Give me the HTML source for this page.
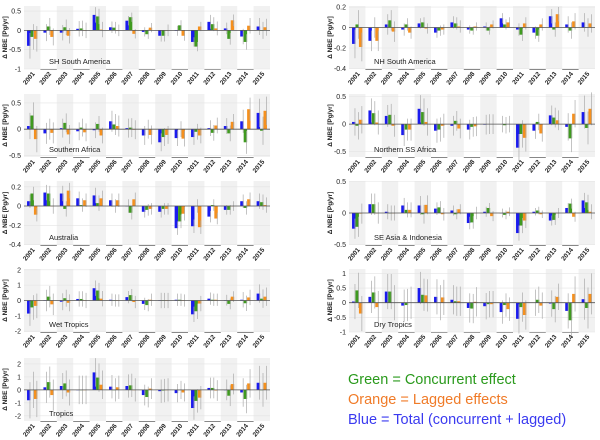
<!DOCTYPE html>
<html><head><meta charset="utf-8"><style>
body{margin:0;background:#fff;width:600px;height:440px;overflow:hidden}
svg{display:block;font-family:"Liberation Sans",sans-serif}
</style></head><body>
<svg id="chart" width="600" height="440" viewBox="0 0 600 440"></svg>
<script>
const years=[2001,2002,2003,2004,2005,2006,2007,2008,2009,2010,2011,2012,2013,2014,2015];
// values per panel: blue (total), green (concurrent), orange (lagged), err (half-length)
const shsaBlue=[-0.4,-0.06,-0.06,0.04,0.4,0.08,0.25,-0.04,-0.14,-0.01,-0.3,0.22,0.05,-0.16,0.1];
const shsaGreen=[-0.17,0.1,0.08,0.05,0.36,0.07,0.34,-0.1,-0.14,0.13,-0.42,0.16,-0.22,-0.3,0.0];
const shsaOrange=[-0.22,-0.17,-0.14,0.0,0.02,0.0,-0.09,0.07,0.0,-0.14,0.1,0.05,0.26,0.12,0.08];
const shsaErr=[0.33,0.22,0.2,0.2,0.2,0.15,0.12,0.12,0.15,0.13,0.12,0.18,0.15,0.2,0.22];
const safBlue=[0.06,-0.08,0.02,-0.04,-0.02,0.15,0.02,-0.12,-0.25,-0.17,-0.15,0.02,0.06,0.15,0.31];
const safGreen=[0.26,0.0,0.12,0.03,0.1,0.09,0.03,0.0,-0.15,0.0,-0.05,-0.07,-0.08,-0.25,-0.03];
const safOrange=[-0.19,-0.07,-0.1,-0.06,-0.12,0.06,-0.01,-0.11,-0.11,-0.18,-0.12,0.07,0.14,0.38,0.35];
const safErr=[0.25,0.2,0.18,0.17,0.15,0.2,0.18,0.18,0.17,0.15,0.15,0.15,0.15,0.22,0.27];
const ausBlue=[0.05,0.14,0.13,0.08,0.11,0.06,0.0,-0.06,-0.06,-0.23,-0.21,-0.11,-0.04,0.05,0.05];
const ausGreen=[0.13,0.13,-0.03,0.01,0.03,0.0,-0.07,-0.04,-0.03,-0.16,0.0,0.01,-0.04,-0.02,0.04];
const ausOrange=[-0.09,0.0,0.16,0.06,0.08,0.06,0.07,-0.03,-0.03,-0.08,-0.22,-0.13,0.0,0.07,0.01];
const ausErr=[0.07,0.08,0.08,0.07,0.08,0.07,0.07,0.06,0.06,0.07,0.07,0.06,0.05,0.07,0.08];
const wetBlue=[-0.85,0.0,-0.08,0.1,0.8,0.05,0.22,-0.22,0.0,0.05,-0.9,0.12,0.02,0.05,0.45];
const wetGreen=[-0.45,0.25,0.15,0.1,0.65,0.0,0.35,-0.3,0.0,0.05,-0.7,0.05,-0.22,-0.18,0.12];
const wetOrange=[-0.35,-0.25,-0.15,0.0,0.12,0.0,-0.1,0.05,0.0,0.0,-0.2,0.05,0.25,0.2,0.25];
const wetErr=[0.8,0.7,0.55,0.5,0.5,0.4,0.4,0.4,0.5,0.4,0.5,0.4,0.35,0.5,0.6];
const troBlue=[-0.8,0.2,0.3,0.0,1.35,0.25,0.3,-0.4,-0.1,-0.25,-1.4,0.15,0.0,-0.2,0.55];
const troGreen=[0.0,0.6,0.5,0.0,0.95,0.0,0.35,-0.55,-0.05,0.0,-0.85,0.15,-0.45,-0.7,0.0];
const troOrange=[-0.7,-0.4,-0.2,0.0,0.4,0.2,0.0,0.1,0.0,-0.2,-0.6,-0.05,0.45,0.5,0.55];
const troErr=[1.4,1.2,1.0,1.1,1.1,0.9,0.9,0.8,0.9,0.7,0.9,0.8,0.8,1.1,1.3];
const nhsaBlue=[-0.16,-0.13,0.03,-0.02,0.04,-0.05,0.05,-0.02,0.01,0.09,-0.02,-0.05,0.11,0.03,0.05];
const nhsaGreen=[0.03,0.0,0.07,0.03,0.05,-0.03,0.04,-0.03,-0.03,0.03,-0.07,-0.08,-0.02,-0.03,0.0];
const nhsaOrange=[-0.19,-0.13,-0.04,-0.05,-0.01,-0.02,0.01,0.01,0.03,0.05,0.04,0.03,0.13,0.06,0.04];
const nhsaErr=[0.14,0.1,0.1,0.06,0.05,0.05,0.06,0.04,0.04,0.05,0.06,0.06,0.07,0.08,0.09];
const nssBlue=[0.04,0.25,0.15,-0.2,0.28,-0.12,-0.03,-0.1,-0.01,0.0,-0.43,-0.12,0.16,-0.05,0.22];
const nssGreen=[-0.03,0.2,0.17,-0.1,0.22,-0.1,0.06,-0.05,0.0,-0.02,-0.18,0.04,0.12,-0.26,-0.07];
const nssOrange=[0.08,0.03,-0.03,-0.1,0.04,-0.03,-0.08,-0.04,0.0,0.0,-0.25,-0.17,0.07,0.19,0.28];
const nssErr=[0.25,0.22,0.2,0.2,0.25,0.22,0.18,0.18,0.18,0.15,0.25,0.15,0.18,0.25,0.3];
const seaBlue=[-0.25,0.14,0.02,0.12,0.12,0.07,0.04,-0.16,0.02,0.0,-0.32,0.02,-0.12,0.08,0.2];
const seaGreen=[-0.22,0.14,0.0,0.05,-0.02,0.09,-0.02,-0.15,0.08,-0.03,-0.2,0.04,-0.11,0.15,0.17];
const seaOrange=[-0.01,0.0,0.0,0.05,0.13,-0.02,0.06,0.0,-0.05,0.02,-0.12,-0.02,0.0,-0.06,0.02];
const seaErr=[0.16,0.17,0.12,0.12,0.15,0.1,0.08,0.1,0.08,0.07,0.12,0.06,0.08,0.08,0.12];
const dryBlue=[0.04,0.2,0.38,-0.1,0.5,0.2,0.1,-0.18,-0.12,-0.32,-0.55,0.0,-0.03,-0.28,0.12];
const dryGreen=[0.42,0.35,0.38,-0.08,0.27,0.0,0.05,-0.2,-0.05,-0.08,-0.15,0.1,-0.22,-0.6,-0.18];
const dryOrange=[-0.37,-0.15,0.0,0.0,0.25,0.18,0.05,0.03,-0.05,-0.22,-0.42,-0.1,0.2,0.3,0.3];
const dryErr=[0.6,0.55,0.6,0.55,0.55,0.6,0.5,0.5,0.45,0.4,0.5,0.45,0.45,0.6,0.7];
const panels=[
 {name:'SH South America',id:'sh-south-america',x0:24,x1:270,top:6,bot:69,ymin:-1,ymax:0.63,ticks:[0.5,0,-0.5,-1],tl:['0.5','0','-0.5','-1'],b:shsaBlue,g:shsaGreen,o:shsaOrange,e:shsaErr},
 {name:'Southern Africa',id:'southern-africa',x0:24,x1:270,top:94,bot:157,ymin:-0.53,ymax:0.67,ticks:[0.5,0,-0.5],tl:['0.5','0','-0.5'],b:safBlue,g:safGreen,o:safOrange,e:safErr},
 {name:'Australia',id:'australia',x0:24,x1:270,top:181,bot:245,ymin:-0.405,ymax:0.26,ticks:[0.2,0,-0.2,-0.4],tl:['0.2','0','-0.2','-0.4'],b:ausBlue,g:ausGreen,o:ausOrange,e:ausErr},
 {name:'Wet Tropics',id:'wet-tropics',x0:24,x1:270,top:269,bot:332,ymin:-2.05,ymax:2.05,ticks:[2,1,0,-1,-2],tl:['2','1','0','-1','-2'],b:wetBlue,g:wetGreen,o:wetOrange,e:wetErr},
 {name:'Tropics',id:'tropics',x0:24,x1:270,top:358,bot:421,ymin:-2.4,ymax:2.46,ticks:[2,1,0,-1,-2],tl:['2','1','0','-1','-2'],b:troBlue,g:troGreen,o:troOrange,e:troErr},
 {name:'NH South America',id:'nh-south-america',x0:349,x1:595,top:6,bot:69,ymin:-0.405,ymax:0.21,ticks:[0.2,0,-0.2,-0.4],tl:['0.2','0','-0.2','-0.4'],b:nhsaBlue,g:nhsaGreen,o:nhsaOrange,e:nhsaErr},
 {name:'Northern SS Africa',id:'northern-ss-africa',x0:349,x1:595,top:94,bot:157,ymin:-0.6,ymax:0.55,ticks:[0.5,0,-0.5],tl:['0.5','0','-0.5'],b:nssBlue,g:nssGreen,o:nssOrange,e:nssErr},
 {name:'SE Asia & Indonesia',id:'se-asia-indonesia',x0:349,x1:595,top:181,bot:245,ymin:-0.51,ymax:0.51,ticks:[0.5,0,-0.5],tl:['0.5','0','-0.5'],b:seaBlue,g:seaGreen,o:seaOrange,e:seaErr},
 {name:'Dry Tropics',id:'dry-tropics',x0:349,x1:595,top:269,bot:332,ymin:-1.0,ymax:1.15,ticks:[1,0.5,0,-0.5,-1],tl:['1','0.5','0','-0.5','-1'],b:dryBlue,g:dryGreen,o:dryOrange,e:dryErr}
];
const NS='http://www.w3.org/2000/svg';
const svg=document.getElementById('chart');
function mk(tag,attrs,parent){const el=document.createElementNS(NS,tag);for(const k in attrs)el.setAttribute(k,attrs[k]);(parent||svg).appendChild(el);return el;}
panels.forEach(p=>{
 const g=mk('g',{});
 
 
 const w=(p.x1-p.x0)/years.length;
 const xs=i=>p.x0+i*w;
 const ys=v=>p.top+(p.ymax-v)/(p.ymax-p.ymin)*(p.bot-p.top);
 years.forEach((yr,i)=>{
  if(i%2===0){const r=mk('rect',{x:xs(i),y:p.top,width:w,height:p.bot-p.top,fill:'#f1f1f1'},g);
   
   }
  else{mk('line',{x1:xs(i),x2:xs(i+1),y1:p.bot+0.5,y2:p.bot+0.5,stroke:'#888','stroke-width':1},g);}
 });
 p.ticks.forEach((t,k)=>{
  mk('line',{x1:p.x0,x2:p.x1,y1:ys(t),y2:ys(t),stroke:'#e4e4e4','stroke-width':0.6},g);
  const tx=mk('text',{x:p.x0-3,y:ys(t)+2.5,'font-size':7,'text-anchor':'end',fill:'#222'},g);
  tx.textContent=p.tl[k];
  
  
 });
 const series=[[p.b,'#1a1aee',-1],[p.g,'#3f9a1f',0],[p.o,'#f5901e',1]];
 const bw=w*0.21;
 years.forEach((yr,i)=>{
  const c=xs(i)+w/2;
  series.forEach(([arr,col,off])=>{
   const cx=c+off*bw;
   const v=arr[i];
   const r=mk('rect',{x:cx-bw/2,y:Math.min(ys(v),ys(0)),width:bw,height:Math.max(0.3,Math.abs(ys(v)-ys(0))),fill:col},g);
   
   
   const ex=cx+bw*0.35;
   mk('line',{x1:ex,x2:ex,y1:ys(v+p.e[i]),y2:ys(v-p.e[i]),stroke:'#aaa','stroke-width':0.7},g);
  });
  const lt=mk('text',{transform:`translate(${c+3},${p.bot+5}) rotate(-50)`,'font-size':6.5,'text-anchor':'end',fill:'#222','font-weight':'bold'},g);
  lt.textContent=yr;
  
  
 });
 mk('line',{x1:p.x0,x2:p.x1,y1:ys(0),y2:ys(0),stroke:'#555','stroke-width':0.8},g);
 const lab=mk('text',{x:p.x0+25,y:p.bot-5,'font-size':7.5,fill:'#222'},g);
 lab.textContent=p.name;
 
 
 const ya=mk('text',{transform:`translate(${p.x0-17},${(p.top+p.bot)/2}) rotate(-90)`,'font-size':6.5,'text-anchor':'middle',fill:'#222','font-weight':'bold'},g);
 ya.textContent='Δ NBE [Pg/yr]';
 
 
});
const legend=[['Green = Concurrent effect','#2a9a1c',384],['Orange = Lagged effects','#f07b28',404],['Blue = Total (concurrent + lagged)','#3a3af0',424]];
legend.forEach(([t,c,y])=>{
 const tx=mk('text',{x:348,y:y,'font-size':14.5,fill:c});
 tx.textContent=t;
 
 
});
</script>
</body></html>
